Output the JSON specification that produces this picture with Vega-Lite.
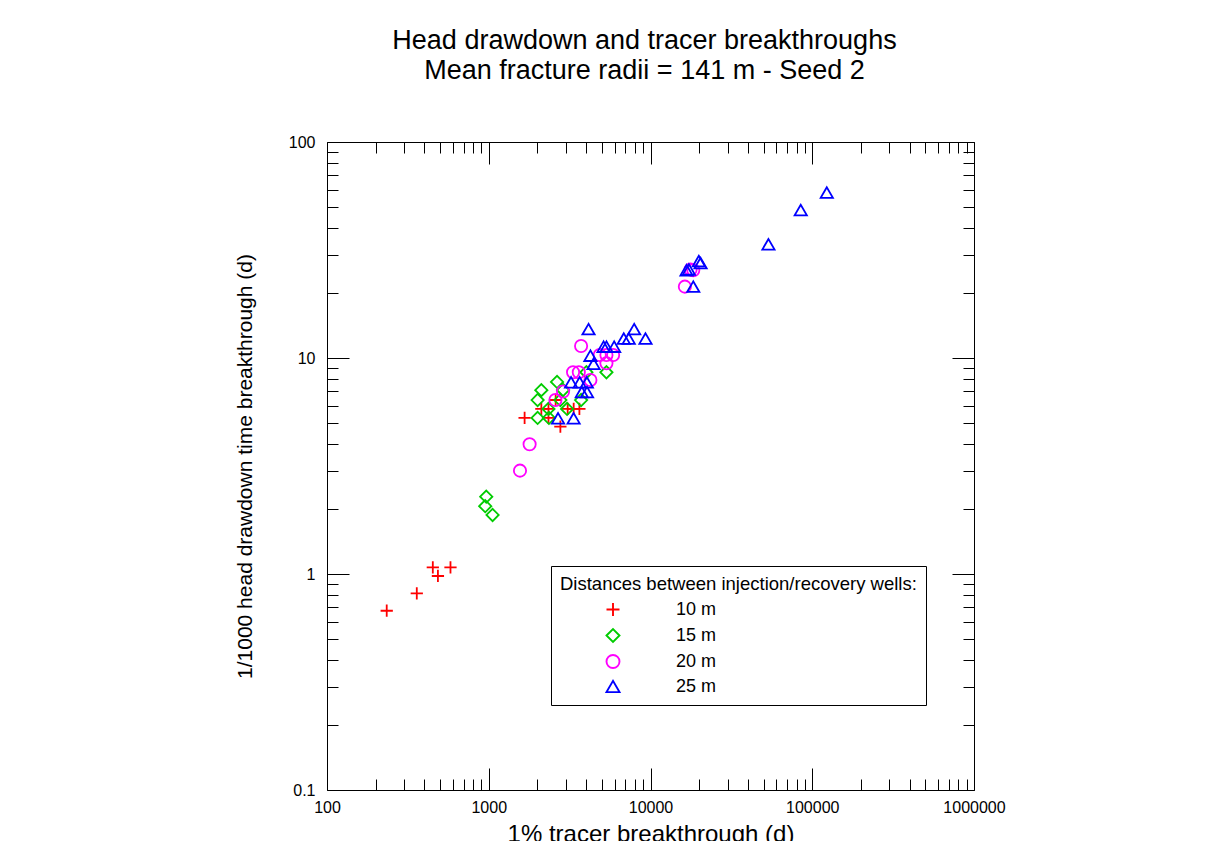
{
  "$schema": "https://vega.github.io/schema/vega-lite/v6.json",
  "width": 647,
  "height": 648,
  "autosize": {"type": "none"},
  "padding": {"left": 327, "top": 142, "right": 258, "bottom": 51},
  "background": "white",
  "title": {
    "text": ["Head drawdown and tracer breakthroughs", "Mean fracture radii = 141 m - Seed 2"],
    "fontSize": 27, "fontWeight": "normal", "font": "Liberation Sans", "color": "black",
    "anchor": "middle", "lineHeight": 30, "offset": 49, "dx": -6
  },
  "config": {
    "font": "Liberation Sans",
    "view": {"stroke": "black", "strokeWidth": 1},
    "axis": {"grid": false, "domain": false, "tickColor": "black", "tickWidth": 1, "labelColor": "black", "labelFontSize": 16, "labelFont": "Liberation Sans", "titleFont": "Liberation Sans", "titleFontWeight": "normal", "titleColor": "black", "titleFontSize": 21, "labelOverlap": false, "labelFlush": false, "labelBound": false},
    "legend": {
      "orient": "none", "legendX": 224, "legendY": 424,
      "strokeColor": "black", "fillColor": "white", "padding": 9,
      "titleFontSize": 18.5, "titleFontWeight": "normal", "titleColor": "black", "titleFont": "Liberation Sans", "titleLimit": 1000,
      "labelFontSize": 18, "labelColor": "black", "labelFont": "Liberation Sans", "labelLimit": 500,
      "symbolOffset": 44, "labelOffset": 54, "rowPadding": 4, "titlePadding": 7,
      "symbolStrokeWidth": 1.9, "symbolSize": 169
    }
  },
  "data": {"values": [
    {"x": 234, "y": 0.676, "d": "10 m"},
    {"x": 359, "y": 0.814, "d": "10 m"},
    {"x": 451, "y": 1.074, "d": "10 m"},
    {"x": 485, "y": 0.979, "d": "10 m"},
    {"x": 580, "y": 1.074, "d": "10 m"},
    {"x": 1666, "y": 5.28, "d": "10 m"},
    {"x": 2114, "y": 5.81, "d": "10 m"},
    {"x": 2340, "y": 5.81, "d": "10 m"},
    {"x": 2340, "y": 5.28, "d": "10 m"},
    {"x": 2592, "y": 6.39, "d": "10 m"},
    {"x": 2772, "y": 4.81, "d": "10 m"},
    {"x": 3076, "y": 5.81, "d": "10 m"},
    {"x": 3350, "y": 5.81, "d": "10 m"},
    {"x": 3634, "y": 5.81, "d": "10 m"},
    {"x": 965, "y": 2.28, "d": "15 m"},
    {"x": 951, "y": 2.06, "d": "15 m"},
    {"x": 1056, "y": 1.876, "d": "15 m"},
    {"x": 2005, "y": 5.28, "d": "15 m"},
    {"x": 2005, "y": 6.39, "d": "15 m"},
    {"x": 2114, "y": 7.1, "d": "15 m"},
    {"x": 2644, "y": 7.75, "d": "15 m"},
    {"x": 2340, "y": 5.81, "d": "15 m"},
    {"x": 2355, "y": 5.28, "d": "15 m"},
    {"x": 2772, "y": 6.39, "d": "15 m"},
    {"x": 2880, "y": 7.11, "d": "15 m"},
    {"x": 3050, "y": 5.81, "d": "15 m"},
    {"x": 3723, "y": 6.39, "d": "15 m"},
    {"x": 4015, "y": 8.59, "d": "15 m"},
    {"x": 5341, "y": 8.59, "d": "15 m"},
    {"x": 1560, "y": 3.01, "d": "20 m"},
    {"x": 1789, "y": 3.99, "d": "20 m"},
    {"x": 2583, "y": 6.39, "d": "20 m"},
    {"x": 2880, "y": 7.0, "d": "20 m"},
    {"x": 3321, "y": 8.59, "d": "20 m"},
    {"x": 3604, "y": 8.59, "d": "20 m"},
    {"x": 4251, "y": 7.91, "d": "20 m"},
    {"x": 3723, "y": 11.36, "d": "20 m"},
    {"x": 4855, "y": 10.33, "d": "20 m"},
    {"x": 5341, "y": 10.33, "d": "20 m"},
    {"x": 5875, "y": 10.33, "d": "20 m"},
    {"x": 5341, "y": 9.45, "d": "20 m"},
    {"x": 16310, "y": 21.4, "d": "20 m"},
    {"x": 17690, "y": 25.7, "d": "20 m"},
    {"x": 18380, "y": 25.5, "d": "20 m"},
    {"x": 2682, "y": 5.26, "d": "25 m"},
    {"x": 3347, "y": 5.26, "d": "25 m"},
    {"x": 3228, "y": 7.72, "d": "25 m"},
    {"x": 3650, "y": 7.72, "d": "25 m"},
    {"x": 4040, "y": 7.72, "d": "25 m"},
    {"x": 3760, "y": 6.96, "d": "25 m"},
    {"x": 4051, "y": 6.96, "d": "25 m"},
    {"x": 4139, "y": 13.6, "d": "25 m"},
    {"x": 4251, "y": 10.25, "d": "25 m"},
    {"x": 4446, "y": 9.4, "d": "25 m"},
    {"x": 5126, "y": 11.28, "d": "25 m"},
    {"x": 5341, "y": 11.28, "d": "25 m"},
    {"x": 5960, "y": 11.28, "d": "25 m"},
    {"x": 6835, "y": 12.3, "d": "25 m"},
    {"x": 7337, "y": 12.3, "d": "25 m"},
    {"x": 7925, "y": 13.6, "d": "25 m"},
    {"x": 9312, "y": 12.3, "d": "25 m"},
    {"x": 16700, "y": 25.5, "d": "25 m"},
    {"x": 17270, "y": 25.7, "d": "25 m"},
    {"x": 18380, "y": 21.4, "d": "25 m"},
    {"x": 19900, "y": 28.1, "d": "25 m"},
    {"x": 20400, "y": 27.5, "d": "25 m"},
    {"x": 53600, "y": 33.6, "d": "25 m"},
    {"x": 84900, "y": 48.4, "d": "25 m"},
    {"x": 123000, "y": 58.3, "d": "25 m"}
  ]},
  "layer": [
    {
      "mark": {"type": "point", "filled": false, "size": 150, "strokeWidth": 1.8, "opacity": 1},
      "encoding": {
        "x": {
          "field": "x", "type": "quantitative",
          "scale": {"type": "log", "domain": [100, 1000000], "nice": false},
          "axis": {
            "orient": "bottom",
            "values": [100,200,300,400,500,600,700,800,900,1000,2000,3000,4000,5000,6000,7000,8000,9000,10000,20000,30000,40000,50000,60000,70000,80000,90000,100000,200000,300000,400000,500000,600000,700000,800000,900000,1000000],
            "format": "~f",
            "labelExpr": "abs(log(datum.value)/LN10 - round(log(datum.value)/LN10)) < 0.000001 ? datum.label : ''",
            "tickSize": {"condition": {"test": "abs(log(datum.value)/LN10 - round(log(datum.value)/LN10)) < 0.000001", "value": -22}, "value": -11},
            "labelPadding": 31,
            "title": "1% tracer breakthrough (d)",
            "titleFontSize": 24,
            "titlePadding": -4
          }
        },
        "y": {
          "field": "y", "type": "quantitative",
          "scale": {"type": "log", "domain": [0.1, 100], "nice": false},
          "axis": {
            "orient": "left",
            "values": [0.1,0.2,0.3,0.4,0.5,0.6,0.7,0.8,0.9,1,2,3,4,5,6,7,8,9,10,20,30,40,50,60,70,80,90,100],
            "format": "~f",
            "labelExpr": "abs(log(datum.value)/LN10 - round(log(datum.value)/LN10)) < 0.000001 ? datum.label : ''",
            "tickSize": {"condition": {"test": "abs(log(datum.value)/LN10 - round(log(datum.value)/LN10)) < 0.000001", "value": -22}, "value": -11},
            "labelPadding": 34,
            "title": "1/1000 head drawdown time breakthrough (d)",
            "titlePadding": 33
          }
        },
        "color": {
          "field": "d", "type": "nominal",
          "scale": {"domain": ["10 m", "15 m", "20 m", "25 m"], "range": ["#ff0000", "#00cc00", "#ff00ff", "#0000ff"]},
          "legend": {"title": "Distances between injection/recovery wells:"}
        },
        "shape": {
          "field": "d", "type": "nominal",
          "scale": {"domain": ["10 m", "15 m", "20 m", "25 m"], "range": ["M-1,0H1M0,-1V1", "diamond", "circle", "triangle-up"]},
          "legend": {"title": "Distances between injection/recovery wells:"}
        }
      }
    },
    {
      "mark": {"type": "point", "opacity": 0},
      "encoding": {
        "x": {
          "field": "x", "type": "quantitative",
          "axis": {
            "orient": "top",
            "values": [100,200,300,400,500,600,700,800,900,1000,2000,3000,4000,5000,6000,7000,8000,9000,10000,20000,30000,40000,50000,60000,70000,80000,90000,100000,200000,300000,400000,500000,600000,700000,800000,900000,1000000],
            "labels": false, "title": null,
            "tickSize": {"condition": {"test": "abs(log(datum.value)/LN10 - round(log(datum.value)/LN10)) < 0.000001", "value": -22}, "value": -11}
          }
        },
        "y": {
          "field": "y", "type": "quantitative",
          "axis": {
            "orient": "right",
            "values": [0.1,0.2,0.3,0.4,0.5,0.6,0.7,0.8,0.9,1,2,3,4,5,6,7,8,9,10,20,30,40,50,60,70,80,90,100],
            "labels": false, "title": null,
            "tickSize": {"condition": {"test": "abs(log(datum.value)/LN10 - round(log(datum.value)/LN10)) < 0.000001", "value": -22}, "value": -11}
          }
        }
      }
    }
  ],
  "resolve": {"axis": {"x": "independent", "y": "independent"}}
}
